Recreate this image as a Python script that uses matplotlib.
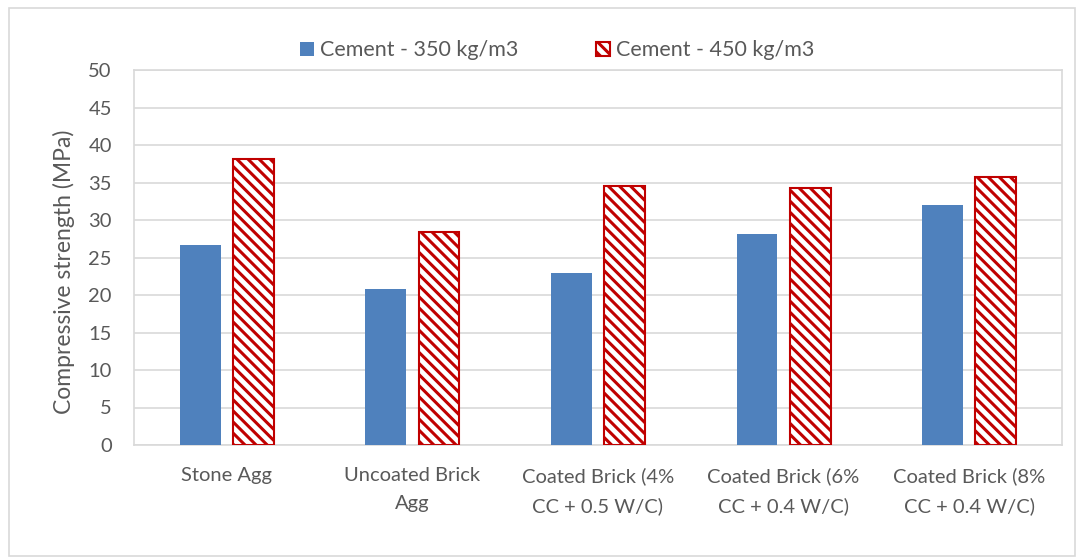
import matplotlib
matplotlib.use("Agg")
import matplotlib.pyplot as plt
import numpy as np
from matplotlib.patches import Rectangle

plt.rcParams["font.family"] = ["Lato", "DejaVu Sans"]
plt.rcParams["hatch.linewidth"] = 2.2
plt.rcParams["hatch.color"] = "#C00000"

categories = ["Stone Agg", "Uncoated Brick\nAgg", "Coated Brick (4%\nCC + 0.5 W/C)",
              "Coated Brick (6%\nCC + 0.4 W/C)", "Coated Brick (8%\nCC + 0.4 W/C)"]
series_names = ["Cement - 350 kg/m3", "Cement - 450 kg/m3"]
cement_350 = [26.7, 20.8, 22.9, 28.2, 32.0]
cement_450 = [38.1, 28.4, 34.6, 34.3, 35.7]
yticks = [0, 5, 10, 15, 20, 25, 30, 35, 40, 45, 50]

TEXT = "#595959"
GRID = "#D9D9D9"
BLUE = "#4F81BD"
RED = "#C00000"

fig = plt.figure(figsize=(10.83, 5.58), dpi=100)
ax = fig.add_axes([134 / 1083, 1 - 445 / 558, 928 / 1083, 375 / 558])

x = np.arange(len(categories))
w = 0.22
off = 0.143
ax.bar(x - off, cement_350, w, color=BLUE, label=series_names[0], zorder=3)
ax.bar(x + off, cement_450, w, facecolor="white", edgecolor=RED, hatch="\\\\\\",
       linewidth=1.5, label=series_names[1], zorder=3)

ax.set_xlim(-0.5, len(categories) - 0.5)
ax.set_ylim(0, 50)
ax.set_yticks(yticks)
ax.set_xticks(x)
ax.set_xticklabels(categories, fontsize=14.5, color=TEXT, linespacing=1.8)
ax.tick_params(axis="y", labelsize=14.5, labelcolor=TEXT, length=0, pad=16)
ax.tick_params(axis="x", length=0, pad=16)
ax.yaxis.grid(True, color=GRID, linewidth=1.2, zorder=0)
for s in ax.spines.values():
    s.set_color(GRID)
    s.set_linewidth(1.2)
ax.set_ylabel("Compressive strength (MPa)", fontsize=16.5, color=TEXT)
ax.yaxis.set_label_coords(-0.064, 0.461)

leg = ax.legend(loc="lower center", bbox_to_anchor=(0.456, 1.0), ncol=2, frameon=False,
                fontsize=15.5, handlelength=0.65, handleheight=0.65, handletextpad=0.3,
                columnspacing=3.6, borderaxespad=0.05)
for t in leg.get_texts():
    t.set_color(TEXT)

fig.patches.append(Rectangle((9 / 1083, 2 / 558), 1066 / 1083, 548 / 558,
                             transform=fig.transFigure, fill=False,
                             edgecolor=GRID, linewidth=1.2))

fig.savefig("out.png", dpi=100)
